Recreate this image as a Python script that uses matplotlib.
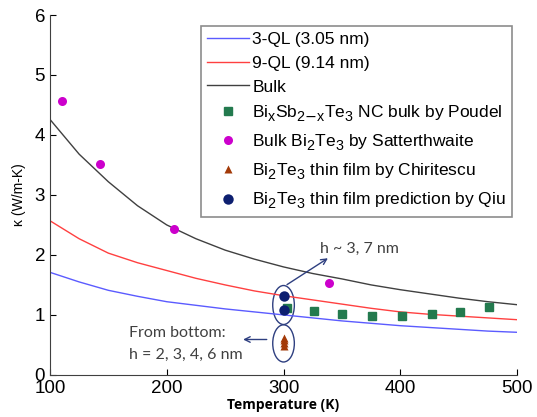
import matplotlib
matplotlib.use("Agg")
import matplotlib.pyplot as plt
from matplotlib.patches import Ellipse
import numpy as np

try:
    from matplotlib import _mathtext
    _mathtext.SHRINK_FACTOR = 0.82
    _mathtext.FontConstantsBase.sub1 = 0.5
    _mathtext.FontConstantsBase.sub2 = 0.6
except Exception:
    pass

plt.rcParams['font.family'] = ['Liberation Sans', 'DejaVu Sans']
plt.rcParams['mathtext.default'] = 'regular'

# Model curves
T_curve = [100, 125, 150, 175, 200, 225, 250, 275, 300, 325, 350, 375, 400,
           425, 450, 475, 500]
k_3QL = [1.71, 1.55, 1.41, 1.31, 1.22, 1.16, 1.10, 1.05, 1.00, 0.95, 0.90,
         0.86, 0.82, 0.79, 0.76, 0.73, 0.71]
k_9QL = [2.57, 2.27, 2.03, 1.87, 1.74, 1.61, 1.50, 1.40, 1.32, 1.25, 1.18,
         1.11, 1.05, 1.01, 0.98, 0.95, 0.92]
k_bulk = [4.26, 3.68, 3.22, 2.82, 2.50, 2.27, 2.08, 1.93, 1.80, 1.69, 1.60,
          1.50, 1.42, 1.35, 1.28, 1.22, 1.17]

# Experimental / reference data
T_poudel = [303, 326, 350, 376, 401, 427, 451, 476]
k_poudel = [1.12, 1.06, 1.02, 0.99, 0.99, 1.02, 1.05, 1.13]
T_satt = [110, 143, 206, 339]
k_satt = [4.57, 3.52, 2.44, 1.53]
T_chir = [300, 300, 300, 300]
k_chir = [0.48, 0.53, 0.58, 0.62]
T_qiu = [300, 300]
k_qiu = [1.09, 1.31]

fig = plt.figure(figsize=(5.37, 4.17), dpi=100)
ax = fig.add_axes([0.093, 0.101, 0.870, 0.863])

ax.plot(T_curve, k_3QL, color='#5b5bff', lw=1.0, label='3-QL (3.05 nm)')
ax.plot(T_curve, k_9QL, color='#ff4040', lw=1.0, label='9-QL (9.14 nm)')
ax.plot(T_curve, k_bulk, color='#404040', lw=1.0, label='Bulk')
ax.plot(T_poudel, k_poudel, 's', color='#237a4e', ms=5.5, ls='none',
        label=r'Bi$_x$Sb$_{2\mathrm{-}x}$Te$_3$ NC bulk by Poudel')
ax.plot(T_satt, k_satt, 'o', color='#cc00cc', ms=6.5, mec='none', ls='none',
        label=r'Bulk Bi$_2$Te$_3$ by Satterthwaite')
ax.plot(T_chir, k_chir, '^', color='#a33a08', ms=5.5, mec='none', ls='none',
        label=r'Bi$_2$Te$_3$ thin film by Chiritescu')
ax.plot(T_qiu, k_qiu, 'o', color='#0d1f70', ms=7.5, mec='none', ls='none',
        label=r'Bi$_2$Te$_3$ thin film prediction by Qiu')

ax.set_xlim(100, 500)
ax.set_ylim(0, 6)
ax.set_xticks([100, 200, 300, 400, 500])
ax.set_yticks([0, 1, 2, 3, 4, 5, 6])
ax.tick_params(direction='in', labelsize=13.5, length=4, width=0.8)
for s in ['top', 'right']:
    ax.spines[s].set_visible(False)
for s in ['left', 'bottom']:
    ax.spines[s].set_color('#404040')

ax.set_xlabel('Temperature (K)', fontsize=10, fontweight='bold', labelpad=1,
              family=['Open Sans', 'DejaVu Sans'])
ax.set_ylabel('κ (W/m-K)', fontsize=10, labelpad=6)

# Annotations
c = '#2e3f80'
ax.add_patch(Ellipse((300, 1.165), 18.5, 0.65, fill=False, ec=c, lw=1.0))
ax.add_patch(Ellipse((300, 0.525), 18.5, 0.62, fill=False, ec=c, lw=1.0))
ax.annotate('', xy=(340, 1.97), xytext=(301, 1.48),
            arrowprops=dict(arrowstyle='->', color=c, lw=1.0))
ax.annotate('', xy=(263, 0.59), xytext=(288, 0.59),
            arrowprops=dict(arrowstyle='->', color=c, lw=1.0))
afont = ['Lato', 'DejaVu Sans']
ax.text(331, 2.1, 'h ~ 3, 7 nm', fontsize=11.5, color='#404040', va='center',
        family=afont)
ax.text(168, 0.70, 'From bottom:', fontsize=11.5, color='#404040', va='center',
        family=afont)
ax.text(168, 0.34, 'h = 2, 3, 4, 6 nm', fontsize=11.5, color='#404040', va='center',
        family=afont)

leg = ax.legend(loc='upper right', bbox_to_anchor=(1.0, 0.985), fontsize=12.5,
                frameon=True, fancybox=False, edgecolor='#707070',
                handlelength=2.4, handletextpad=0.2, borderpad=0.35,
                labelspacing=0.5, borderaxespad=0.3)
leg.get_frame().set_linewidth(1.2)

fig.savefig('out.png', dpi=100)
